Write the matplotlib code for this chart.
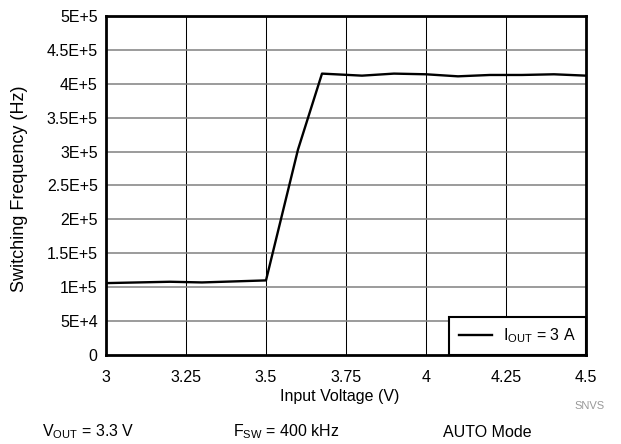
import matplotlib
matplotlib.use("Agg")
import matplotlib.pyplot as plt

plt.rcParams['font.family'] = ['Liberation Sans', 'DejaVu Sans']

vin = [3.0, 3.2, 3.3, 3.5, 3.6, 3.675, 3.8, 3.9, 4.0, 4.1, 4.2, 4.3, 4.4, 4.5]
fsw = [1.06e5, 1.08e5, 1.07e5, 1.10e5, 3.03e5, 4.15e5, 4.12e5, 4.15e5,
       4.14e5, 4.11e5, 4.13e5, 4.13e5, 4.14e5, 4.12e5]

x_ticks = [3, 3.25, 3.5, 3.75, 4, 4.25, 4.5]
x_labels = ["3", "3.25", "3.5", "3.75", "4", "4.25", "4.5"]
y_ticks = [0, 5e4, 1e5, 1.5e5, 2e5, 2.5e5, 3e5, 3.5e5, 4e5, 4.5e5, 5e5]
y_labels = ["0", "5E+4", "1E+5", "1.5E+5", "2E+5", "2.5E+5", "3E+5",
            "3.5E+5", "4E+5", "4.5E+5", "5E+5"]

fig = plt.figure(figsize=(6.21, 4.44), dpi=100)
ax = fig.add_axes([0.1707, 0.2005, 0.7729, 0.7635])

ax.plot(vin, fsw, color='black', lw=1.7, label=r'I$_{\mathregular{OUT}}$ = 3 A', zorder=3)

ax.set_xlim(3, 4.5)
ax.set_ylim(0, 5e5)
ax.set_xticks(x_ticks)
ax.set_xticklabels(x_labels)
ax.set_yticks(y_ticks)
ax.set_yticklabels(y_labels)
ax.tick_params(length=0, labelsize=11.5)
ax.tick_params(axis='x', pad=10.5)
ax.tick_params(axis='y', pad=6)

# grid: thin black verticals, grey horizontals
for v in x_ticks[1:-1]:
    ax.axvline(v, color='black', lw=0.75, zorder=1)
for v in y_ticks[1:-1]:
    ax.axhline(v, color='#808080', lw=1.1, zorder=1)

for s in ax.spines.values():
    s.set_linewidth(2)

ax.set_xlabel("Input Voltage (V)", fontsize=11.5)
ax.xaxis.set_label_coords(0.4875, -0.1)
ax.set_ylabel("Switching Frequency (Hz)", fontsize=13)
ax.yaxis.set_label_coords(-0.1625, 0.49)

leg = ax.legend(loc='lower right', borderaxespad=0, fontsize=11.5,
                fancybox=False, framealpha=1, handlelength=2.1,
                borderpad=0.6, handletextpad=0.7)
leg.get_frame().set_edgecolor('black')
leg.get_frame().set_linewidth(1.5)

fig.text(0.95, 0.086, "SNVS", fontsize=8, color='#999999', ha='center', va='center')
fig.text(0.067, 0.027, r"V$_{\mathregular{OUT}}$ = 3.3 V", fontsize=11.5, va='center')
fig.text(0.375, 0.027, r"F$_{\mathregular{SW}}$ = 400 kHz", fontsize=11.5, va='center')
fig.text(0.713, 0.027, "AUTO Mode", fontsize=11.5, va='center')

fig.savefig("out.png", dpi=100)
